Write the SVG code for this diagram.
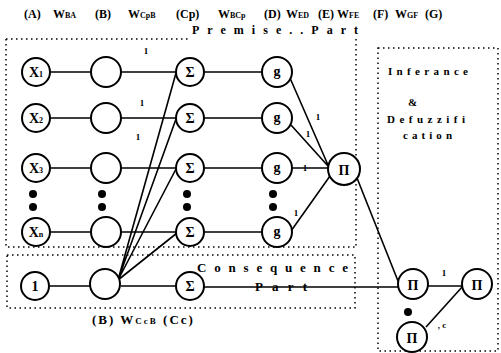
<svg xmlns="http://www.w3.org/2000/svg" width="501" height="353" viewBox="0 0 501 353">
<style>
.n{fill:#fff;stroke:#000;stroke-width:2}
.e{stroke:#000;stroke-width:1.6;fill:none}
.box{fill:none;stroke:#000;stroke-width:1.5;stroke-dasharray:1.5 3.5}
.t{font-family:"Liberation Serif","Times New Roman",serif;font-weight:bold;fill:#000}
.h{font-size:12px}
.s{font-size:8px}
.lab{font-family:"Liberation Serif","Times New Roman",serif;font-weight:bold;font-size:14px;text-anchor:middle;fill:#000}
.w{font-family:"Liberation Serif","Times New Roman",serif;font-weight:bold;font-size:9px;fill:#000;text-anchor:middle}
.dot{fill:#000}
</style>
<rect width="501" height="353" fill="#fff"/>
<!-- header -->
<g id="header" class="t h">
<text y="18"><tspan x="24">(A)</tspan><tspan x="53">W</tspan><tspan class="s">BA</tspan><tspan x="95">(B)</tspan><tspan x="128">W</tspan><tspan class="s">CpB</tspan><tspan x="176">(Cp)</tspan><tspan x="218">W</tspan><tspan class="s">BCp</tspan><tspan x="264">(D)</tspan><tspan x="286">W</tspan><tspan class="s">ED</tspan><tspan x="318">(E)</tspan><tspan x="337">W</tspan><tspan class="s">FE</tspan><tspan x="373">(F)</tspan><tspan x="395">W</tspan><tspan class="s">GF</tspan><tspan x="425">(G)</tspan></text>
</g>
<!-- boxes -->
<g id="boxes">
<path class="box" d="M6 39 H190 M6 39 V247 H356 M356 39 V247"/>
<path class="box" d="M7 255 H355 V308 H7 Z"/>
<path class="box" d="M378 48 H498 V351 H378 Z"/>
</g>
<g id="section-labels" class="t">
<text x="192" y="34" font-size="12" textLength="166">Premise..Part</text>
<text x="388" y="75" font-size="11" textLength="80">Inferance</text>
<text x="408" y="106" font-size="11">&amp;</text>
<text x="387" y="123" font-size="11" textLength="78">Defuzzifi</text>
<text x="403" y="139" font-size="11" textLength="49">cation</text>
<text x="197" y="272" font-size="13" textLength="151">Consequence</text>
<text x="255" y="291" font-size="13" textLength="52">Part</text>
<text x="92" y="324" font-size="13" letter-spacing="2">(B) W<tspan font-size="9">CcB</tspan> (Cc)</text>
</g>
<!-- connectors -->
<g id="connectors" class="e">
<path d="M50 72 H91 M121 72 H176 M204 72 H262"/>
<path d="M50 118 H91 M121 118 H176 M204 118 H262"/>
<path d="M50 168 H91 M121 168 H176 M204 168 H262"/>
<path d="M50 232 H91 M121 232 H176 M204 232 H262"/>
<path d="M50 286 H91 M121 286 H176"/>
<path d="M118 280 L176 73 M118 280 L176 119 M118 280 L176 169 M118 280 L177 233"/>
<path d="M290 78 L328 165 M291 125 L328 166 M292 168 H328 M291 231 L330 176"/>
<path d="M357 178 L398 281"/>
<path d="M204 287 H398"/>
<path d="M428 286 H462"/>
<path d="M426 327 L463 286"/>
</g>
<g id="weights">
<text class="w" x="146" y="54">1</text>
<text class="w" x="142" y="106">1</text>
<text class="w" x="138" y="140">1</text>
<text class="w" x="318" y="120" font-size="6">1</text>
<text class="w" x="308" y="137" font-size="6">1</text>
<text class="w" x="305" y="171" font-size="6">1</text>
<text class="w" x="296" y="216" font-size="6">1</text>
<text class="w" x="444" y="276" font-size="12">1</text>
<text class="w" x="442" y="328" font-size="10">, c</text>
</g>
<!-- nodes -->
<g id="x1"><circle class="n" cx="36" cy="72" r="14"/><text class="lab" x="36" y="77">X<tspan font-size="8">1</tspan></text></g>
<g id="x2"><circle class="n" cx="36" cy="118" r="14"/><text class="lab" x="36" y="123">X<tspan font-size="8">2</tspan></text></g>
<g id="x3"><circle class="n" cx="36" cy="168" r="14"/><text class="lab" x="36" y="173">X<tspan font-size="8">3</tspan></text></g>
<g id="xn"><circle class="n" cx="36" cy="232" r="14"/><text class="lab" x="36" y="237">X<tspan font-size="8">n</tspan></text></g>
<g id="bias"><circle class="n" cx="35" cy="286" r="14"/><text class="lab" x="35" y="291">1</text></g>
<g id="b1"><circle class="n" cx="106" cy="72" r="15"/></g>
<g id="b2"><circle class="n" cx="106" cy="118" r="15"/></g>
<g id="b3"><circle class="n" cx="106" cy="168" r="15"/></g>
<g id="bn"><circle class="n" cx="106" cy="232" r="15"/></g>
<g id="bb"><circle class="n" cx="105" cy="284" r="15"/></g>
<g id="s1"><circle class="n" cx="190" cy="72" r="14"/><text class="lab" x="190" y="77">Σ</text></g>
<g id="s2"><circle class="n" cx="190" cy="118" r="14"/><text class="lab" x="190" y="123">Σ</text></g>
<g id="s3"><circle class="n" cx="190" cy="168" r="14"/><text class="lab" x="190" y="173">Σ</text></g>
<g id="sn"><circle class="n" cx="190" cy="232" r="14"/><text class="lab" x="190" y="237">Σ</text></g>
<g id="sc"><circle class="n" cx="190" cy="286" r="14"/><text class="lab" x="190" y="291">Σ</text></g>
<g id="g1"><circle class="n" cx="277" cy="72" r="15"/><text class="lab" x="277" y="76">g</text></g>
<g id="g2"><circle class="n" cx="277" cy="118" r="15"/><text class="lab" x="277" y="122">g</text></g>
<g id="g3"><circle class="n" cx="277" cy="168" r="15"/><text class="lab" x="277" y="172">g</text></g>
<g id="gn"><circle class="n" cx="277" cy="232" r="15"/><text class="lab" x="277" y="236">g</text></g>
<g id="p1"><circle class="n" cx="344" cy="169" r="16"/><text class="lab" x="344" y="175">Π</text></g>
<g id="p2"><circle class="n" cx="413" cy="284" r="15"/><text class="lab" x="413" y="290">Π</text></g>
<g id="p3"><circle class="n" cx="477" cy="284" r="15"/><text class="lab" x="477" y="290">Π</text></g>
<g id="p4"><circle class="n" cx="412" cy="337" r="15"/><text class="lab" x="412" y="343">Π</text></g>
<g id="ellipsis">
<circle class="dot" cx="33" cy="194" r="4"/><circle class="dot" cx="33" cy="207" r="4"/>
<circle class="dot" cx="102" cy="194" r="4"/><circle class="dot" cx="102" cy="207" r="4"/>
<circle class="dot" cx="187" cy="194" r="4"/><circle class="dot" cx="187" cy="207" r="4"/>
<circle class="dot" cx="273" cy="194" r="4"/><circle class="dot" cx="273" cy="207" r="4"/>
<circle class="dot" cx="408" cy="312" r="4"/>
</g>
</svg>
